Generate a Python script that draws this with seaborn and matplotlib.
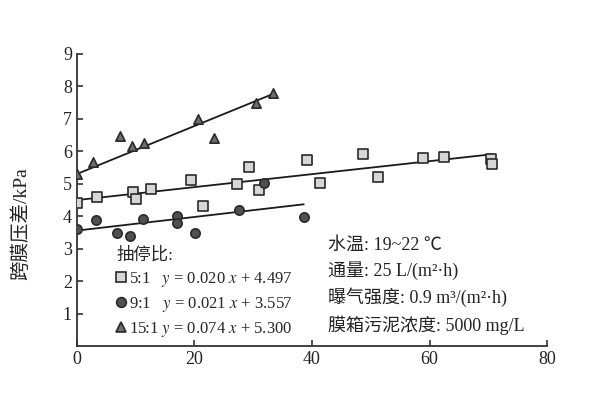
import numpy as np
import pandas as pd
import matplotlib
matplotlib.use("Agg")
import matplotlib.pyplot as plt
import seaborn as sns
from matplotlib.lines import Line2D

# 5:1 series
x_51 = [0, 3.5, 9.5, 10.0, 12.6, 19.5, 21.4, 27.2, 29.3, 31.0, 39.1, 41.4, 48.7, 51.3, 58.8, 62.5, 70.4, 70.6]
y_51 = [4.42, 4.60, 4.74, 4.52, 4.83, 5.12, 4.32, 4.99, 5.51, 4.81, 5.73, 5.02, 5.92, 5.22, 5.80, 5.82, 5.75, 5.61]
# 9:1 series
x_91 = [0, 3.2, 6.8, 9.1, 11.3, 17.1, 17.1, 20.1, 27.6, 31.8, 38.6]
y_91 = [3.60, 3.88, 3.49, 3.39, 3.90, 4.00, 3.80, 3.49, 4.19, 5.01, 3.99]
# 15:1 series
x_151 = [0, 2.7, 7.4, 9.4, 11.4, 20.6, 23.4, 30.4, 33.3]
y_151 = [5.30, 5.67, 6.47, 6.17, 6.26, 7.00, 6.40, 7.49, 7.80]

ratios = ["5:1", "9:1", "15:1"]
slopes = [0.020, 0.021, 0.074]
intercepts = [4.497, 3.557, 5.300]

conditions = ["水温: 19~22 ℃", "通量: 25 L/(m²·h)", "曝气强度: 0.9 m³/(m²·h)", "膜箱污泥浓度: 5000 mg/L"]

sns.set_style("ticks")
plt.rcParams['font.family'] = ['Liberation Serif', 'Noto Sans CJK SC']
plt.rcParams['mathtext.fontset'] = 'stix'
plt.rcParams['xtick.direction'] = 'in'
plt.rcParams['ytick.direction'] = 'in'

fig, ax = plt.subplots(figsize=(6, 4), dpi=100)
fig.subplots_adjust(left=0.128, right=0.912, bottom=0.135, top=0.865)

series = [(x_51, y_51, 's', '#d6d6d6'), (x_91, y_91, 'o', '#505050'), (x_151, y_151, '^', '#6e6e6e')]
handles = []
labels = []
for (xs, ys, mk, fc), ratio, k, b in zip(series, ratios, slopes, intercepts):
    df = pd.DataFrame({'x': xs, 'y': ys})
    sns.scatterplot(data=df, x='x', y='y', marker=mk, color=fc, edgecolor='#2a2a2a',
                    linewidth=1.2, s=45, ax=ax, zorder=3)
    xfit = np.array([min(xs), max(xs)])
    sns.lineplot(x=xfit, y=k * xfit + b, color='#1a1a1a', linewidth=1.3, ax=ax, zorder=2)
    handles.append(Line2D([], [], marker=mk, linestyle='none', markerfacecolor=fc,
                          markeredgecolor='#2a2a2a', markeredgewidth=1.2, markersize=7))
    pad = '   ' if len(ratio) == 3 else ' '
    labels.append(f"{ratio}{pad}$y$ = {k:.3f} $x$ + {b:.3f}")

ax.set_xlim(0, 80)
ax.set_ylim(0, 9)
ax.set_xticks([0, 20, 40, 60, 80])
ax.set_yticks([1, 2, 3, 4, 5, 6, 7, 8, 9])
ax.set_yticklabels(['1', '2', '3', '4', '5', '6', '7', '8', '9'])
ax.tick_params(labelsize=13, colors='#222222', length=4, width=1.1)
sns.despine(ax=ax)
for sp in ['left', 'bottom']:
    ax.spines[sp].set_linewidth(1.3)
    ax.spines[sp].set_color('#333333')

ax.set_xlabel('')
ax.set_ylabel('跨膜压差/kPa', fontsize=14, color='#222222')
ax.yaxis.set_label_coords(-0.1, 0.42)

leg = ax.legend(handles, labels, title='抽停比:', loc='upper left', bbox_to_anchor=(0.07, 0.36),
                frameon=False, fontsize=12, title_fontsize=12.5, handlelength=0.6,
                handletextpad=0.15, labelspacing=0.35, borderaxespad=0, alignment='left')

ys_txt = [0.346, 0.258, 0.166, 0.072]
for t, yy in zip(conditions, ys_txt):
    ax.text(0.535, yy, t, transform=ax.transAxes, fontsize=13, va='center', ha='left', color='#222222')

fig.savefig('out.png', dpi=100)
